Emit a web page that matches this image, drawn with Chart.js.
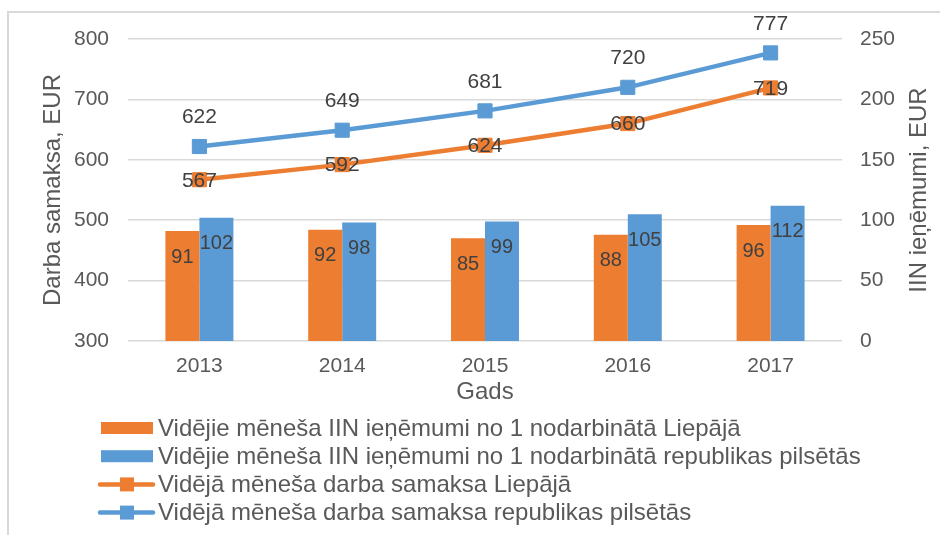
<!DOCTYPE html>
<html lang="lv">
<head>
<meta charset="utf-8">
<title>Darba samaksa un IIN ieņēmumi</title>
<script src="https://cdn.jsdelivr.net/npm/chart.js@4/dist/chart.umd.min.js"></script>
<style>
  html, body { margin: 0; padding: 0; background: #fff; }
  #wrap { width: 940px; height: 535px; }
</style>
</head>
<body>
<div id="wrap"><canvas id="chart" width="940" height="535"></canvas></div>
<script>
"use strict";

// years on the x axis
const years = ['2013', '2014', '2015', '2016', '2017'];

// average monthly personal income tax per employee (right axis)
const iinLiepaja = [91, 92, 85, 88, 96];
const iinRepublika = [102, 98, 99, 105, 112];

// average monthly wage (left axis)
const algaLiepaja = [567, 592, 624, 660, 719];
const algaRepublika = [622, 649, 681, 720, 777];

const seriesNames = [
    'Vidējie mēneša IIN ieņēmumi no 1 nodarbinātā Liepājā',
    'Vidējie mēneša IIN ieņēmumi no 1 nodarbinātā republikas pilsētās',
    'Vidējā mēneša darba samaksa Liepājā',
    'Vidējā mēneša darba samaksa republikas pilsētās'
];

const ORANGE = '#ED7D31';
const BLUE = '#5B9BD5';
const FONT = "'Liberation Sans', Arial, sans-serif";

Chart.defaults.font.family = FONT;
Chart.defaults.color = '#595959';

// light frame on the top and left edge
const frame = {
    id: 'frame',
    beforeDraw(chart) {
        const ctx = chart.ctx;
        ctx.save();
        ctx.strokeStyle = '#d9d9d9';
        ctx.lineWidth = 2;
        ctx.beginPath();
        ctx.moveTo(8, chart.height);
        ctx.lineTo(8, 12);
        ctx.lineTo(chart.width, 12);
        ctx.stroke();
        ctx.restore();
    }
};

// numbers on bars and line points
const valueLabels = {
    id: 'valueLabels',
    afterDatasetsDraw(chart) {
        const ctx = chart.ctx;
        ctx.save();
        ctx.fillStyle = '#404040';
        ctx.textAlign = 'center';
        ctx.textBaseline = 'middle';
        chart.data.datasets.forEach((ds, i) => {
            const meta = chart.getDatasetMeta(i);
            meta.data.forEach((el, j) => {
                let y;
                if (ds.type === 'line') {
                    ctx.font = '21px ' + FONT;
                    // republic line gets its label above, Liepāja centred on the marker
                    y = i === 3 ? el.y - 29 : el.y + 1;
                } else {
                    ctx.font = '20px ' + FONT;
                    y = el.y + 26;
                }
                ctx.fillText(String(ds.data[j]), el.x, y);
            });
        });
        ctx.restore();
    }
};

// right axis title (reads bottom to top) and the legend block
const extras = {
    id: 'extras',
    afterDraw(chart) {
        const ctx = chart.ctx;
        const area = chart.chartArea;
        ctx.save();
        ctx.fillStyle = '#595959';
        ctx.font = '24px ' + FONT;
        ctx.textAlign = 'center';
        ctx.textBaseline = 'middle';
        ctx.translate(919, (area.top + area.bottom) / 2);
        ctx.rotate(-Math.PI / 2);
        ctx.fillText('IIN ieņēmumi, EUR', 0, 0);
        ctx.restore();

        ctx.save();
        ctx.font = '24px ' + FONT;
        ctx.textAlign = 'left';
        ctx.textBaseline = 'middle';
        chart.data.datasets.forEach((ds, i) => {
            const y = 428 + i * 28.2;
            if (ds.type === 'line') {
                ctx.strokeStyle = ds.borderColor;
                ctx.lineWidth = 4.5;
                ctx.lineCap = 'round';
                ctx.beginPath();
                ctx.moveTo(100, y);
                ctx.lineTo(153, y);
                ctx.stroke();
                ctx.fillStyle = ds.borderColor;
                ctx.fillRect(120, y - 7, 14, 14);
            } else {
                ctx.fillStyle = ds.backgroundColor;
                ctx.fillRect(101, y - 6, 52, 12);
            }
            ctx.fillStyle = '#595959';
            ctx.fillText(ds.label, 158, y + 1);
        });
        ctx.restore();
    }
};

new Chart(document.querySelector('#chart'), {
    type: 'bar',
    data: {
        labels: years,
        datasets: [
            {
                label: seriesNames[0],
                data: iinLiepaja,
                backgroundColor: ORANGE,
                yAxisID: 'y1',
                order: 2,
                categoryPercentage: 0.476,
                barPercentage: 1
            },
            {
                label: seriesNames[1],
                data: iinRepublika,
                backgroundColor: BLUE,
                yAxisID: 'y1',
                order: 2,
                categoryPercentage: 0.476,
                barPercentage: 1
            },
            {
                type: 'line',
                label: seriesNames[2],
                data: algaLiepaja,
                borderColor: ORANGE,
                backgroundColor: ORANGE,
                borderWidth: 4.5,
                pointStyle: 'rect',
                pointRadius: 10,
                pointBorderWidth: 1,
                tension: 0,
                yAxisID: 'y',
                order: 1
            },
            {
                type: 'line',
                label: seriesNames[3],
                data: algaRepublika,
                borderColor: BLUE,
                backgroundColor: BLUE,
                borderWidth: 4.5,
                pointStyle: 'rect',
                pointRadius: 10,
                pointBorderWidth: 1,
                tension: 0,
                yAxisID: 'y',
                order: 0
            }
        ]
    },
    options: {
        responsive: false,
        animation: false,
        devicePixelRatio: 1,
        layout: { padding: { top: 39, bottom: 125, left: 0, right: 0 } },
        plugins: {
            legend: { display: false },
            tooltip: { enabled: false }
        },
        scales: {
            x: {
                offset: true,
                grid: { display: false, drawTicks: false },
                border: { display: false },
                ticks: { font: { size: 21 }, padding: 13 },
                title: {
                    display: true,
                    text: 'Gads',
                    font: { size: 24 },
                    padding: { top: 0, bottom: 3 }
                },
                afterFit(scale) { scale.height = 69; }
            },
            y: {
                position: 'left',
                min: 300,
                max: 800,
                ticks: { stepSize: 100, font: { size: 21 }, padding: 19 },
                grid: { color: '#d9d9d9', lineWidth: 1.5, drawTicks: false },
                border: { display: false },
                title: {
                    display: true,
                    text: 'Darba samaksa, EUR',
                    font: { size: 24 },
                    padding: { top: 39, bottom: 0 }
                },
                afterFit(scale) { scale.width = 128; }
            },
            y1: {
                position: 'right',
                min: 0,
                max: 250,
                ticks: { stepSize: 50, font: { size: 21 }, padding: 18 },
                grid: { display: false, drawTicks: false },
                border: { display: false },
                afterFit(scale) { scale.width = 98; }
            }
        }
    },
    plugins: [frame, valueLabels, extras]
});
</script>
</body>
</html>
